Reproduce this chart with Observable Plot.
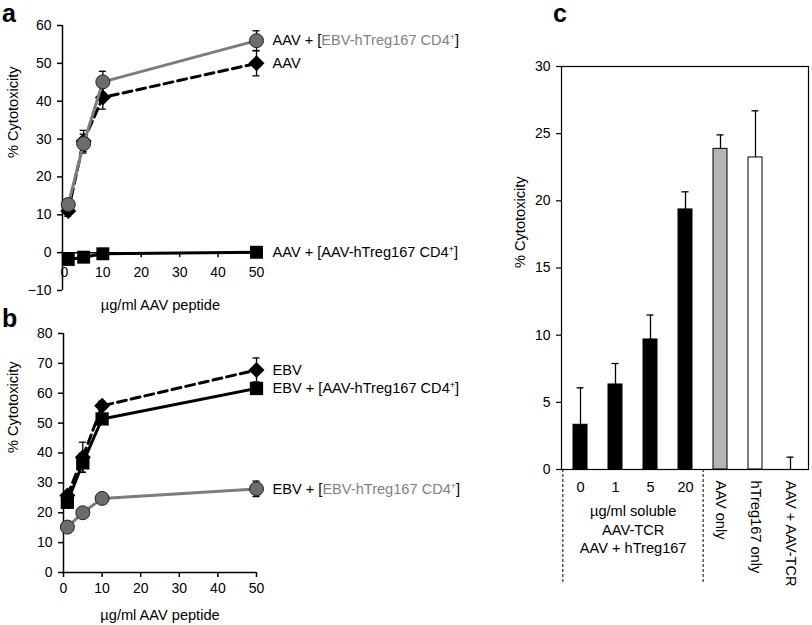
<!DOCTYPE html>
<html><head><meta charset="utf-8">
<script src="https://cdn.jsdelivr.net/npm/d3@7"></script>
<script src="https://cdn.jsdelivr.net/npm/@observablehq/plot@0.6"></script>
<style>
body{margin:0;background:#fff;}
#fig{position:relative;width:812px;height:625px;font-family:"Liberation Sans",Arial,Helvetica,sans-serif;overflow:hidden;background:#fff}
.panel{position:absolute}
.letter{position:absolute;font-weight:bold;font-size:25px;line-height:1;color:#000}
</style></head><body><div id="fig"></div>
<script>
// ---------- data ----------
const dose = [1, 5, 10, 50];
const xTicks = [0, 10, 20, 30, 40, 50];
const xTitle = "µg/ml AAV peptide";
const yTitle = "% Cytotoxicity";

// panel a
const yTicksA = [-10, 0, 10, 20, 30, 40, 50, 60];
const aEBVTreg = [12.7, 28.8, 45.1, 56.0];
const aEBVTregErr = [1.5, 2.5, 2.8, 2.6];
const aAAV = [11.0, 29.5, 41.0, 50.0];
const aAAVErr = [1.4, 2.8, 3.1, 3.3];
const aAAVTreg = [-1.8, -1.2, -0.3, 0.1];
const aAAVTregErr = [0.4, 0.4, 0.4, 0.4];
const labelsA = ["AAV + [EBV-hTreg167 CD4+]", "AAV", "AAV + [AAV-hTreg167 CD4+]"];

// panel b
const yTicksB = [0, 10, 20, 30, 40, 50, 60, 70, 80];
const bEBV = [25.8, 38.6, 55.8, 67.8];
const bEBVErr = [1.2, 5.0, 1.5, 4.0];
const bAAVTreg = [23.5, 36.7, 51.4, 61.6];
const bAAVTregErr = [1.0, 3.2, 1.2, 1.5];
const bEBVTreg = [15.2, 20.0, 24.8, 28.0];
const bEBVTregErr = [1.0, 1.0, 1.5, 2.6];
const labelsB = ["EBV", "EBV + [AAV-hTreg167 CD4+]", "EBV + [EBV-hTreg167 CD4+]"];

// panel c
const catsC = ["0", "1", "5", "20", "AAV only", "hTreg167 only", "AAV + AAV-TCR"];
const valC = [3.33, 6.33, 9.68, 19.36, 23.87, 23.23, 0];
const errC = [2.75, 1.56, 1.82, 1.31, 1.04, 3.47, 0.92];
const kindC = ["soluble", "soluble", "soluble", "soluble", "aav", "treg", "blocked"];
const groupLabelC = "µg/ml soluble\nAAV-TCR\nAAV + hTreg167";
const yTicksC = [0, 5, 10, 15, 20, 25, 30];

// ---------- styles ----------
const FONT = '"Liberation Sans", Arial, Helvetica, sans-serif';
const GRAY_LINE = "#7c7c7c", GRAY_DOT = "#6c6c6c", GRAY_TEXT = "#808080";
const fillC = {soluble: "black", aav: "#b4b4b4", treg: "white", blocked: "white"};
const baseStyle = {fontFamily: FONT, fontSize: "14px", background: "transparent", color: "black", overflow: "visible"};
const LABEL_SIZE = 14.6;

function rows(series, ys, errs) {
  return dose.map((x, i) => ({series, x, y: ys[i], e: errs[i]}));
}

function errorMarks(data, capHalf) {
  return [
    Plot.ruleX(data, {x: "x", y1: d => d.y - d.e, y2: d => d.y + d.e, stroke: "black", strokeWidth: 1.3}),
    Plot.ruleY(data, {y: d => d.y + d.e, x1: d => d.x - capHalf, x2: d => d.x + capHalf, stroke: "black", strokeWidth: 1.3}),
    Plot.ruleY(data, {y: d => d.y - d.e, x1: d => d.x - capHalf, x2: d => d.x + capHalf, stroke: "black", strokeWidth: 1.3})
  ];
}

function richLabels(svg) {
  d3.select(svg).selectAll("text").each(function () {
    const t = this.textContent;
    const m = t.match(/^(.*\[)(.*CD4)\+(\])$/);
    if (!m) return;
    const col = m[2].startsWith("EBV-hTreg") ? GRAY_TEXT : "black";
    const sel = d3.select(this);
    sel.text(null);
    sel.append("tspan").text(m[1]);
    sel.append("tspan").attr("fill", col).text(m[2]);
    sel.append("tspan").attr("fill", col).attr("font-size", "9px").attr("dy", -5).text("+");
    sel.append("tspan").attr("fill", "black").attr("dy", 5).text(m[3]);
  });
}

function place(svg, left, top) {
  svg.classList.add("panel");
  svg.style.left = left + "px";
  svg.style.top = top + "px";
  document.getElementById("fig").appendChild(svg);
  richLabels(svg);
}

// ---------- panel a ----------
{
  const W = 500, H = 318, mL = 62, mR = 244, mT = 25, mB = 28;
  const xDom = [-0.5, 50];
  const capHalf = 3.5 / ((W - mL - mR) / (xDom[1] - xDom[0]));
  const gray = rows(labelsA[0], aEBVTreg, aEBVTregErr);
  const dia = rows(labelsA[1], aAAV, aAAVErr);
  const sq = rows(labelsA[2], aAAVTreg, aAAVTregErr);
  const last = [gray, dia, sq].map(s => s[s.length - 1]);
  const svg = Plot.plot({
    width: W, height: H, marginLeft: mL, marginRight: mR, marginTop: mT, marginBottom: mB,
    style: baseStyle,
    x: {domain: xDom, axis: null},
    y: {domain: [-10, 60], axis: null},
    marks: [
      Plot.ruleX([xDom[0]], {stroke: "black", strokeWidth: 1.5}),
      Plot.axisY({ticks: yTicksA, tickSize: 5, tickPadding: 6, label: null, strokeWidth: 1.5}),
      Plot.ruleY([0], {stroke: "black", strokeWidth: 1.5}),
      Plot.axisX({ticks: xTicks, y: 0, tickSize: 5, tickPadding: 9, label: null, strokeWidth: 1.5}),
      ...errorMarks(dia, capHalf),
      ...errorMarks(sq, capHalf),
      ...errorMarks(gray, capHalf),
      Plot.line(dia, {x: "x", y: "y", stroke: "black", strokeWidth: 3, strokeDasharray: "9,5"}),
      Plot.line(sq, {x: "x", y: "y", stroke: "black", strokeWidth: 3}),
      Plot.dot(dia, {x: "x", y: "y", symbol: "diamond2", r: 7.2, fill: "black"}),
      Plot.dot(sq, {x: "x", y: "y", symbol: "square", r: 7.3, fill: "black"}),
      Plot.line(gray, {x: "x", y: "y", stroke: GRAY_LINE, strokeWidth: 3}),
      Plot.dot(gray, {x: "x", y: "y", r: 7, fill: GRAY_DOT, stroke: "#222", strokeWidth: 1}),
      Plot.text(last, {x: "x", y: "y", text: "series", dx: 16, textAnchor: "start", fontSize: LABEL_SIZE}),
      Plot.text([xTitle], {x: () => 25, text: d => d, frameAnchor: "bottom", dy: 15, lineAnchor: "middle", fontSize: LABEL_SIZE}),
      Plot.text([yTitle], {text: d => d, frameAnchor: "left", rotate: -90, dx: -49, fontSize: LABEL_SIZE})
    ]
  });
  place(svg, 0, 0);
}

// ---------- panel b ----------
{
  const W = 500, H = 307, mL = 63, mR = 244, mT = 15, mB = 53;
  const xDom = [0, 50];
  const capHalf = 3.5 / ((W - mL - mR) / (xDom[1] - xDom[0]));
  const dia = rows(labelsB[0], bEBV, bEBVErr);
  const sq = rows(labelsB[1], bAAVTreg, bAAVTregErr);
  const gray = rows(labelsB[2], bEBVTreg, bEBVTregErr);
  const last = [dia, sq, gray].map(s => s[s.length - 1]);
  const svg = Plot.plot({
    width: W, height: H, marginLeft: mL, marginRight: mR, marginTop: mT, marginBottom: mB,
    style: baseStyle,
    x: {domain: xDom, axis: null},
    y: {domain: [0, 80], axis: null},
    marks: [
      Plot.ruleX([xDom[0]], {stroke: "black", strokeWidth: 1.5}),
      Plot.ruleY([0], {stroke: "black", strokeWidth: 1.5}),
      Plot.axisY({ticks: yTicksB, tickSize: 5, tickPadding: 6, label: null, strokeWidth: 1.5}),
      Plot.axisX({ticks: xTicks, tickSize: 5, tickPadding: 6, label: null, strokeWidth: 1.5}),
      ...errorMarks(gray, capHalf),
      ...errorMarks(sq, capHalf),
      ...errorMarks(dia, capHalf),
      Plot.line(gray, {x: "x", y: "y", stroke: GRAY_LINE, strokeWidth: 3}),
      Plot.dot(gray, {x: "x", y: "y", r: 7, fill: GRAY_DOT, stroke: "#222", strokeWidth: 1}),
      Plot.line(sq, {x: "x", y: "y", stroke: "black", strokeWidth: 3}),
      Plot.line(dia, {x: "x", y: "y", stroke: "black", strokeWidth: 3, strokeDasharray: "9,5"}),
      Plot.dot(sq, {x: "x", y: "y", symbol: "square", r: 7.5, fill: "black"}),
      Plot.dot(dia, {x: "x", y: "y", symbol: "diamond2", r: 7.2, fill: "black"}),
      Plot.text(last, {x: "x", y: "y", text: "series", dx: 16, textAnchor: "start", fontSize: LABEL_SIZE}),
      Plot.text([xTitle], {x: () => 25, text: d => d, frameAnchor: "bottom", dy: 43, lineAnchor: "middle", fontSize: LABEL_SIZE}),
      Plot.text([yTitle], {text: d => d, frameAnchor: "left", rotate: -90, dx: -50, fontSize: LABEL_SIZE})
    ]
  });
  place(svg, 0, 318);
}

// ---------- panel c ----------
{
  const W = 312, H = 625, mL = 61, mR = 4, mT = 66, mB = 156;
  const pI = 0.6, pO = 0.3;
  const step = (W - mL - mR) / (catsC.length - pI + 2 * pO);
  const pxPerUnit = (H - mT - mB) / 30;
  const data = catsC.map((c, i) => ({cat: c, v: valC[i], e: errC[i], kind: kindC[i]}));
  const bars = data.filter(d => d.v > 0);
  const svg = Plot.plot({
    width: W, height: H, marginLeft: mL, marginRight: mR, marginTop: mT, marginBottom: mB,
    style: baseStyle,
    x: {domain: catsC, paddingInner: pI, paddingOuter: pO, axis: null},
    y: {domain: [0, 30], axis: null},
    marks: [
      Plot.axisY({ticks: yTicksC, tickSize: 5, tickPadding: 6, label: null, strokeWidth: 1.2}),
      Plot.ruleX(data, {x: "cat", y1: "v", y2: d => d.v + d.e, stroke: "black", strokeWidth: 1.3}),
      Plot.tickY(data, {x: "cat", y: d => d.v + d.e, insetLeft: 3.5, insetRight: 3.5, stroke: "black", strokeWidth: 1.3}),
      Plot.barY(bars, {x: "cat", y: "v", fill: d => fillC[d.kind], stroke: "black", strokeWidth: 1}),
      Plot.frame({stroke: "black", strokeWidth: 1.2}),
      Plot.text(data.slice(0, 4), {x: "cat", text: "cat", frameAnchor: "bottom", dy: 18, lineAnchor: "middle", fontSize: LABEL_SIZE}),
      Plot.text(data.slice(4), {x: "cat", text: "cat", frameAnchor: "bottom", dy: 11, rotate: 90, textAnchor: "start", lineAnchor: "middle", fontSize: LABEL_SIZE}),
      Plot.text([groupLabelC], {x: () => catsC[1], dx: step / 2, text: d => d, frameAnchor: "bottom", dy: 34, lineAnchor: "top", lineHeight: 1.25, fontSize: LABEL_SIZE}),
      Plot.ruleX([catsC[0]], {x: d => d, y1: 0, y2: -114 / pxPerUnit, dx: -step / 2, stroke: "black", strokeWidth: 1, strokeDasharray: "3,2"}),
      Plot.ruleX([catsC[3]], {x: d => d, y1: 0, y2: -114 / pxPerUnit, dx: step / 2, stroke: "black", strokeWidth: 1, strokeDasharray: "3,2"}),
      Plot.text([yTitle], {text: d => d, frameAnchor: "left", rotate: -90, dx: -41, fontSize: LABEL_SIZE})
    ]
  });
  place(svg, 500, 0);
}

// panel letters
[["a", 2, 1], ["b", 2, 306], ["c", 553, 1]].forEach(([t, l, tp]) => {
  const d = document.createElement("div");
  d.className = "letter";
  d.textContent = t;
  d.style.left = l + "px";
  d.style.top = tp + "px";
  document.getElementById("fig").appendChild(d);
});
</script></body></html>
